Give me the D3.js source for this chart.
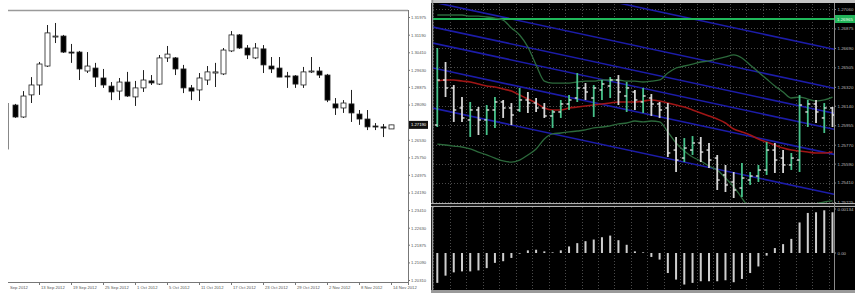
<!DOCTYPE html>
<html><head><meta charset="utf-8">
<script src="https://cdn.jsdelivr.net/npm/d3@7"></script>
<style>html,body{margin:0;padding:0;background:#fff;overflow:hidden}svg{display:block;font-family:"Liberation Sans",Arial,sans-serif}</style>
</head><body><svg id="c" width="855" height="293"></svg>
<script>
// ---------- LEFT CHART DATA (daily candles, EURUSD, Sep–Nov 2012) ----------
const leftDates = ["10 Sep","11 Sep","12 Sep","13 Sep","14 Sep","17 Sep","18 Sep","19 Sep","20 Sep","21 Sep","24 Sep","25 Sep","26 Sep","27 Sep","28 Sep",
 "1 Oct","2 Oct","3 Oct","4 Oct","5 Oct","8 Oct","9 Oct","10 Oct","11 Oct","12 Oct","15 Oct","16 Oct","17 Oct","18 Oct","19 Oct","22 Oct","23 Oct","24 Oct","25 Oct","26 Oct","29 Oct","30 Oct","31 Oct",
 "1 Nov","2 Nov","5 Nov","6 Nov","7 Nov","8 Nov","9 Nov","12 Nov","13 Nov","14 Nov"];
const leftOpen  = [1.2807,1.2754,1.2852,1.2896,1.2980,1.3109,1.3113,1.3042,1.3042,1.2958,1.2971,1.2927,1.2891,1.2869,1.2909,1.2843,1.2883,1.2914,1.2900,1.3016,1.3016,1.2967,1.2883,1.2874,1.2918,1.2949,1.2945,1.3047,1.3118,1.3060,1.3016,1.3056,1.2980,1.2971,1.2936,1.2936,1.2896,1.2954,1.2958,1.2940,1.2812,1.2794,1.2812,1.2767,1.2745,1.2714,1.2710,1.2701];
const leftHigh  = [1.2812,1.2869,1.2931,1.2998,1.3162,1.3171,1.3118,1.3078,1.3047,1.3042,1.2994,1.2967,1.2909,1.2927,1.2954,1.2914,1.2962,1.2940,1.3029,1.3069,1.3020,1.2985,1.2896,1.2949,1.2980,1.2994,1.3060,1.3135,1.3122,1.3073,1.3082,1.3073,1.3020,1.3020,1.2954,1.2940,1.2976,1.3020,1.2976,1.2945,1.2838,1.2829,1.2874,1.2785,1.2785,1.2727,1.2723,1.2719];
const leftLow   = [1.2750,1.2750,1.2816,1.2852,1.2976,1.3082,1.3038,1.2994,1.2918,1.2949,1.2887,1.2883,1.2829,1.2829,1.2843,1.2803,1.2865,1.2896,1.2896,1.2998,1.2940,1.2860,1.2829,1.2825,1.2896,1.2887,1.2940,1.3042,1.3056,1.3011,1.3011,1.2949,1.2949,1.2931,1.2883,1.2883,1.2883,1.2949,1.2927,1.2820,1.2763,1.2772,1.2732,1.2719,1.2696,1.2696,1.2665,1.2701];
const leftClose = [1.2754,1.2847,1.2896,1.2989,1.3127,1.3113,1.3042,1.3038,1.2967,1.2980,1.2931,1.2896,1.2865,1.2909,1.2847,1.2883,1.2918,1.2905,1.3016,1.3033,1.2967,1.2883,1.2869,1.2927,1.2954,1.2954,1.3051,1.3118,1.3060,1.3029,1.3060,1.2985,1.2967,1.2931,1.2934,1.2900,1.2954,1.2958,1.2940,1.2829,1.2794,1.2816,1.2772,1.2745,1.2710,1.2710,1.2705,1.2719];
const leftPriceTicks = [1.31975,1.31190,1.30410,1.29630,1.28875,1.28090,1.26530,1.25750,1.24975,1.24190,1.23410,1.22630,1.21875,1.21090,1.20310];
const leftTimeTickDates  = ["13 Sep","19 Sep","25 Sep","1 Oct","5 Oct","11 Oct","17 Oct","23 Oct","29 Oct","2 Nov","8 Nov","14 Nov"];
const leftTimeTickLabels = ["13 Sep 2012","19 Sep 2012","25 Sep 2012","1 Oct 2012","5 Oct 2012","11 Oct 2012","17 Oct 2012","23 Oct 2012","29 Oct 2012","2 Nov 2012","8 Nov 2012","14 Nov 2012"];
const leftFirstLabel = "Sep 2012";
const leftCurrent = 1.2719;
const leftCurrentLabel = "1.27190";

// ---------- RIGHT CHART DATA ----------
const rOpen  = [1.25957,1.26385,1.26309,1.26119,1.26005,1.26100,1.26005,1.26100,1.26176,1.26119,1.26100,1.26195,1.26166,1.26119,1.26043,1.26081,1.26157,1.26214,1.26309,1.26214,1.26290,1.26328,1.26385,1.26233,1.26271,1.26176,1.26214,1.26157,1.26119,1.25719,1.25643,1.25719,1.25786,1.25719,1.25643,1.25482,1.25415,1.25358,1.25434,1.25472,1.25529,1.25719,1.25643,1.25577,1.25624,1.26081,1.26157,1.26024,1.26119];
const rHigh  = [1.26689,1.26556,1.26337,1.26223,1.26176,1.26128,1.26147,1.26223,1.26195,1.26166,1.26309,1.26271,1.26214,1.26166,1.26100,1.26195,1.26242,1.26451,1.26356,1.26337,1.26385,1.26413,1.26432,1.26366,1.26290,1.26309,1.26252,1.26176,1.26166,1.25843,1.25833,1.25852,1.25843,1.25786,1.25672,1.25577,1.25510,1.25596,1.25510,1.25577,1.25795,1.25786,1.25719,1.25691,1.26242,1.26195,1.26195,1.26166,1.26128];
const rLow   = [1.25938,1.26223,1.25986,1.25986,1.25843,1.25862,1.25862,1.25929,1.26024,1.25957,1.26081,1.26071,1.26081,1.26024,1.25929,1.26024,1.26100,1.26176,1.26195,1.26033,1.26195,1.26214,1.26147,1.26081,1.26100,1.26071,1.26043,1.26024,1.25653,1.25510,1.25605,1.25672,1.25605,1.25548,1.25339,1.25320,1.25263,1.25273,1.25387,1.25415,1.25482,1.25501,1.25501,1.25529,1.25510,1.25938,1.25976,1.25881,1.25938];
const rClose = [1.26385,1.26309,1.26100,1.26024,1.26100,1.26005,1.26100,1.26176,1.26119,1.26052,1.26195,1.26166,1.26119,1.26043,1.26081,1.26157,1.26195,1.26309,1.26271,1.26309,1.26347,1.26385,1.26271,1.26309,1.26195,1.26233,1.26157,1.26100,1.25691,1.25624,1.25738,1.25786,1.25700,1.25624,1.25434,1.25387,1.25339,1.25453,1.25472,1.25529,1.25719,1.25624,1.25577,1.25643,1.26147,1.26157,1.26081,1.26119,1.26052];
const rMA    = [1.26375,1.26385,1.26385,1.26375,1.26366,1.26347,1.26328,1.26318,1.26299,1.26280,1.26242,1.26204,1.26166,1.26119,1.26100,1.26100,1.26119,1.26128,1.26138,1.26147,1.26157,1.26166,1.26176,1.26176,1.26176,1.26185,1.26195,1.26185,1.26166,1.26147,1.26128,1.26100,1.26071,1.26043,1.26014,1.25976,1.25919,1.25891,1.25862,1.25824,1.25795,1.25767,1.25738,1.25719,1.25710,1.25700,1.25691,1.25691,1.25700];
const rUpper = [1.27003,1.27003,1.27003,1.27003,1.26993,1.26993,1.26984,1.26974,1.26955,1.26879,1.26813,1.26699,1.26528,1.26375,1.26356,1.26356,1.26356,1.26366,1.26375,1.26375,1.26385,1.26385,1.26385,1.26375,1.26375,1.26366,1.26375,1.26385,1.26451,1.26499,1.26518,1.26537,1.26556,1.26566,1.26585,1.26604,1.26623,1.26594,1.26528,1.26461,1.26394,1.26328,1.26271,1.26214,1.26223,1.26204,1.26185,1.26195,1.26223];
const rLower = [1.25776,1.25767,1.25757,1.25748,1.25729,1.25700,1.25672,1.25643,1.25615,1.25605,1.25624,1.25672,1.25729,1.25824,1.25872,1.25881,1.25891,1.25900,1.25910,1.25929,1.25938,1.25948,1.25967,1.25976,1.25995,1.25986,1.25995,1.25986,1.25891,1.25786,1.25710,1.25653,1.25615,1.25567,1.25529,1.25453,1.25368,1.25263,1.25149,1.25054,1.25006,1.24978,1.24978,1.25006,1.25073,1.25149,1.25206,1.25225,1.25235];
const rHist  = [-0.00091,-0.00069,-0.00059,-0.00056,-0.00056,-0.00053,-0.00046,-0.00030,-0.00025,-0.00015,-0.00002,0.00008,0.00010,0.00005,0.00002,0.00008,0.00020,0.00030,0.00036,0.00041,0.00048,0.00053,0.00039,0.00025,0.00005,0.00002,-0.00012,-0.00020,-0.00061,-0.00081,-0.00096,-0.00091,-0.00086,-0.00086,-0.00086,-0.00083,-0.00089,-0.00079,-0.00061,-0.00041,-0.00008,0.00015,0.00027,0.00043,0.00093,0.00122,0.00124,0.00130,0.00124];
const rChannelStart = [1.27488,1.27117,1.26879,1.26727,1.26490,1.26109];   // at first bar
const rChannelEnd   = [1.26680,1.26309,1.26071,1.25919,1.25681,1.25301];   // at last bar
const rLevel = 1.26965;
const rLevelLabel = "1.26965";
const rPriceTicks = [1.27060,1.26875,1.26690,1.26505,1.26320,1.26140,1.25955,1.25770,1.25590,1.25410,1.25225];
const rHistTicks = [0.00134, 0];
const rHistTickLabels = ["0.00134","0.00"];

// ---------- DRAW ----------
const svg = d3.select("#c");

// ===== LEFT =====
const L = {x0: 8, x1: 408, y0: 10, y1: 282};
const xL = d3.scalePoint().domain(leftDates).range([15, 391]);
const yL = d3.scaleLinear().domain([1.20310, 1.31975]).range([280, 17]);
const gl = svg.append("g");
gl.append("rect").attr("x",0).attr("y",0).attr("width",430).attr("height",293).attr("fill","#fff");
// frame
gl.append("line").attr("x1",L.x0).attr("x2",L.x1).attr("y1",L.y0+0.5).attr("y2",L.y0+0.5).attr("stroke","#9a9a9a").attr("stroke-width",1.5);
gl.append("line").attr("x1",L.x1+0.5).attr("x2",L.x1+0.5).attr("y1",L.y0).attr("y2",L.y1+3).attr("stroke","#777");
gl.append("line").attr("x1",L.x0).attr("x2",L.x1).attr("y1",L.y1+0.5).attr("y2",L.y1+0.5).attr("stroke","#777");
gl.append("line").attr("x1",L.x0+0.5).attr("x2",L.x0+0.5).attr("y1",yL(1.2816)).attr("y2",yL(1.2610)).attr("stroke","#888");
// price axis
const yAxisL = d3.axisRight(yL).tickValues(leftPriceTicks).tickSize(2).tickFormat(d3.format(".5f"));
const ga = gl.append("g").attr("transform",`translate(${L.x1},0)`).call(yAxisL);
ga.select(".domain").remove();
ga.selectAll("line").attr("stroke","#777");
ga.selectAll("text").attr("font-size",4.2).attr("fill","#555").attr("x",3);
// time axis
const gt = gl.append("g");
leftTimeTickDates.forEach((d,i)=>{
  const x = xL(d);
  gt.append("line").attr("x1",x+0.5).attr("x2",x+0.5).attr("y1",L.y1).attr("y2",L.y1+3).attr("stroke","#777");
  gt.append("text").attr("x",x+2).attr("y",L.y1+6.5).attr("font-size",4.2).attr("fill","#555").text(leftTimeTickLabels[i]);
});
gt.append("text").attr("x",xL(leftDates[0]) - xL.step() + 3).attr("y",L.y1+6.5).attr("font-size",4.2).attr("fill","#555").text(leftFirstLabel);
// candles
const candles = leftDates.map((d,i)=>({d,o:leftOpen[i],h:leftHigh[i],l:leftLow[i],c:leftClose[i]}));
const cg = gl.append("g");
cg.selectAll("line.w").data(candles).join("line")
  .attr("x1",d=>xL(d.d)+0.5).attr("x2",d=>xL(d.d)+0.5)
  .attr("y1",d=>yL(d.h)).attr("y2",d=>yL(d.l)).attr("stroke","#222").attr("stroke-width",1);
cg.selectAll("rect.b").data(candles).join("rect")
  .attr("x",d=>xL(d.d)-2).attr("width",5)
  .attr("y",d=>yL(Math.max(d.o,d.c)))
  .attr("height",d=>Math.max(1,Math.abs(yL(d.o)-yL(d.c))))
  .attr("fill",d=>d.c>=d.o?"#fff":"#000").attr("stroke","#222").attr("stroke-width",0.8);
// current price box
gl.append("rect").attr("x",L.x1+1).attr("y",yL(leftCurrent)-4).attr("width",19).attr("height",8).attr("fill","#111");
gl.append("text").attr("x",L.x1+3).attr("y",yL(leftCurrent)+1.5).attr("font-size",4.2).attr("fill","#fff").text(leftCurrentLabel);

// ===== RIGHT =====
const R = {x0: 433, x1: 834, y0: 4, y1: 203, h0: 207, h1: 290};
const bars = d3.range(rOpen.length);
const xR = d3.scalePoint().domain(bars).range([437.3, 832.5]);
const yR = d3.scaleLinear().domain([1.25225, 1.27060]).range([202, 9]);
const yH = d3.scaleLinear().domain([0, 0.00134]).range([253, 209]);
const gr = svg.append("g");
gr.append("rect").attr("x",431).attr("y",0).attr("width",424).attr("height",293).attr("fill","#000");
const defs = svg.append("defs");
defs.append("clipPath").attr("id","cm").append("rect").attr("x",R.x0).attr("y",R.y0).attr("width",R.x1-R.x0).attr("height",R.y1-R.y0);
defs.append("clipPath").attr("id","ch").append("rect").attr("x",R.x0).attr("y",R.h0).attr("width",R.x1-R.x0).attr("height",R.h1-R.h0);

// grid
const grid = gr.append("g").attr("stroke","#4a4a4a").attr("stroke-dasharray","1,2").attr("stroke-width",1);
rPriceTicks.forEach(v=>{
  grid.append("line").attr("x1",R.x0).attr("x2",R.x1).attr("y1",Math.round(yR(v))+0.5).attr("y2",Math.round(yR(v))+0.5);
});
bars.filter(i=>i%2===0).forEach(i=>{
  const x = Math.round(xR(i)-4)+0.5;
  grid.append("line").attr("x1",x).attr("x2",x).attr("y1",R.y0).attr("y2",R.y1);
  grid.append("line").attr("x1",x).attr("x2",x).attr("y1",R.h0).attr("y2",R.h1);
});

const main = gr.append("g").attr("clip-path","url(#cm)");
// channel lines
rChannelStart.forEach((s,k)=>{
  const xa = xR(0), xb = xR(bars.length-1), ya = yR(s), yb = yR(rChannelEnd[k]);
  const slope = (yb-ya)/(xb-xa);
  main.append("line").attr("x1",R.x0).attr("y1",ya+slope*(R.x0-xa))
    .attr("x2",R.x1).attr("y2",ya+slope*(R.x1-xa))
    .attr("stroke","#1c1ca8").attr("stroke-width",1.6);
});
// horizontal level
main.append("line").attr("x1",R.x0).attr("x2",R.x1).attr("y1",yR(rLevel)).attr("y2",yR(rLevel)).attr("stroke","#1fb85a").attr("stroke-width",2);
// bands & MA
const line = arr => d3.line().x((d,i)=>xR(i)).y(d=>yR(d)).curve(d3.curveMonotoneX)(arr);
main.append("path").attr("d",line(rUpper)).attr("fill","none").attr("stroke","#2c6a3c").attr("stroke-width",1.3);
main.append("path").attr("d",line(rLower)).attr("fill","none").attr("stroke","#2c6a3c").attr("stroke-width",1.3);
main.append("path").attr("d",line(rMA)).attr("fill","none").attr("stroke","#a01616").attr("stroke-width",1.6);
// OHLC bars
const ob = bars.map(i=>({i,o:rOpen[i],h:rHigh[i],l:rLow[i],c:rClose[i]}));
const col = d=>d.c>=d.o?"#46c28a":"#d6d6d6";
main.selectAll("line.v").data(ob).join("line")
  .attr("x1",d=>xR(d.i)).attr("x2",d=>xR(d.i)).attr("y1",d=>yR(d.h)).attr("y2",d=>yR(d.l))
  .attr("stroke",col).attr("stroke-width",1.8);
main.selectAll("line.o").data(ob).join("line")
  .attr("x1",d=>xR(d.i)-2.5).attr("x2",d=>xR(d.i)).attr("y1",d=>yR(d.o)).attr("y2",d=>yR(d.o))
  .attr("stroke","#e8e8e8").attr("stroke-width",1.3);
main.selectAll("line.c").data(ob).join("line")
  .attr("x1",d=>xR(d.i)).attr("x2",d=>xR(d.i)+2.5).attr("y1",d=>yR(d.c)).attr("y2",d=>yR(d.c))
  .attr("stroke","#e8e8e8").attr("stroke-width",1.3);

// histogram
const hist = gr.append("g").attr("clip-path","url(#ch)");
hist.selectAll("rect").data(rHist).join("rect")
  .attr("x",(d,i)=>xR(i)-1).attr("width",2)
  .attr("y",d=>d>=0?yH(d):yH(0)).attr("height",d=>Math.max(0.5,Math.abs(yH(d)-yH(0))))
  .attr("fill","#cfcfcf");

// frame
const fr = gr.append("g");
fr.append("rect").attr("x",431).attr("y",0).attr("width",424).attr("height",3).attr("fill","#c4c4c4");
fr.append("line").attr("x1",432.5).attr("x2",432.5).attr("y1",0).attr("y2",293).attr("stroke","#9a9a9a").attr("stroke-width",1.5);
fr.append("rect").attr("x",431).attr("y",203).attr("width",424).attr("height",4).attr("fill","#1a1a1a");
fr.append("line").attr("x1",431).attr("x2",855).attr("y1",203.5).attr("y2",203.5).attr("stroke","#b0b0b0");
fr.append("line").attr("x1",431).attr("x2",855).attr("y1",206.5).attr("y2",206.5).attr("stroke","#b0b0b0");
fr.append("rect").attr("x",431).attr("y",290).attr("width",424).attr("height",3).attr("fill","#9a9a9a");
fr.append("line").attr("x1",R.x1+0.5).attr("x2",R.x1+0.5).attr("y1",3).attr("y2",290).attr("stroke","#8a8a8a");

// right price axis
const yAxisR = d3.axisRight(yR).tickValues(rPriceTicks).tickSize(2).tickFormat(d3.format(".5f"));
const gra = gr.append("g").attr("transform",`translate(${R.x1},0)`).call(yAxisR);
gra.select(".domain").remove();
gra.selectAll("line").attr("stroke","#888");
gra.selectAll("text").attr("font-size",4.4).attr("fill","#bdbdbd").attr("x",3.5);
// level label box
gr.append("rect").attr("x",R.x1+1).attr("y",yR(rLevel)-4).attr("width",20).attr("height",8).attr("fill","#22b45a");
gr.append("text").attr("x",R.x1+3).attr("y",yR(rLevel)+1.6).attr("font-size",4.4).attr("fill","#eaffea").text(rLevelLabel);
// histogram axis
const gha = gr.append("g").attr("transform",`translate(${R.x1},0)`);
rHistTicks.forEach((v,k)=>{
  gha.append("line").attr("x1",0).attr("x2",2).attr("y1",yH(v)).attr("y2",yH(v)).attr("stroke","#888");
  gha.append("text").attr("x",3.5).attr("y",yH(v)+1.5).attr("font-size",4.4).attr("fill","#bdbdbd").text(rHistTickLabels[k]);
});
</script></body></html>
